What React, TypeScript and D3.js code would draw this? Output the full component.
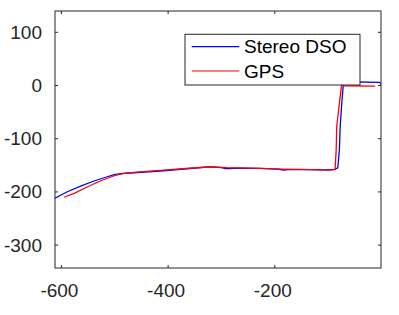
import React from "react";
import * as d3 from "d3";

const dsoX = [-612, -589, -564, -539, -514, -501, -489, -464, -408, -360, -321, -300, -292, -284, -270, -228, -195, -184, -174, -130, -103, -88, -82, -79, -77.5, -74.5, -71.5, -68, -4, 0];
const dsoY = [-212, -199.7, -189, -179.5, -171.5, -167.5, -165.5, -164, -160.2, -156, -153, -154.5, -156.3, -156, -155.3, -155.7, -157, -159, -158, -158.3, -158.7, -157.5, -155, -121, -77, -33, 4, 7, 6, 2];
const gpsX = [-595, -576, -551, -526, -501, -483, -464, -408, -360, -321, -290, -228, -184, -150, -103, -91, -87, -85, -84, -79, -74.5, -71, -12];
const gpsY = [-210, -202.7, -190.3, -179, -169.6, -165, -163.2, -158.9, -155.5, -152.7, -154.5, -155.7, -157, -157.8, -158.9, -158.7, -157, -121, -77, -33, 4.5, -0.5, -1];
const xTicks = [-600, -400, -200];
const yTicks = [-300, -200, -100, 0, 100];
const seriesNames = ["Stereo DSO", "GPS"];
const seriesColors = ["#0000ff", "#ff0000"];

export default function App() {
  const left = 55, right = 381, top = 11, bottom = 268;
  const x = d3.scaleLinear().domain([-612, -1]).range([left, right]);
  const y = d3.scaleLinear().domain([-343, 140]).range([bottom, top]);
  const line = d3.line<[number, number]>().x((d) => x(d[0])).y((d) => y(d[1]));
  const dso = dsoX.map((v, i) => [v, dsoY[i]] as [number, number]);
  const gps = gpsX.map((v, i) => [v, gpsY[i]] as [number, number]);
  const axisColor = "#262626";
  const font = "'Liberation Sans', Arial, sans-serif";
  const tl = 3;
  const fs = 19;
  return (
    <svg width={399} height={315} style={{ position: "absolute", left: 0, top: 0 }} fontFamily={font}>
      <rect x={0} y={0} width={399} height={315} fill="#fff" />
      <defs>
        <clipPath id="plot">
          <rect x={left} y={top} width={right - left} height={bottom - top} />
        </clipPath>
      </defs>
      <g clipPath="url(#plot)" fill="none" strokeWidth={1.3} strokeLinejoin="round">
        <path d={line(dso) || ""} stroke={seriesColors[0]} />
        <path d={line(gps) || ""} stroke={seriesColors[1]} />
      </g>
      <rect x={left} y={top} width={right - left} height={bottom - top} fill="none" stroke={axisColor} strokeWidth={1} />
      {xTicks.map((t) => (
        <g key={"x" + t}>
          <line x1={x(t)} x2={x(t)} y1={bottom} y2={bottom - tl} stroke={axisColor} />
          <line x1={x(t)} x2={x(t)} y1={top} y2={top + tl} stroke={axisColor} />
          <text x={x(t) - 2} y={290} textAnchor="middle" dominantBaseline="central" fontSize={fs} fill={axisColor}>
            {t}
          </text>
        </g>
      ))}
      {yTicks.map((t) => (
        <g key={"y" + t}>
          <line x1={left} x2={left + tl} y1={y(t)} y2={y(t)} stroke={axisColor} />
          <line x1={right} x2={right - tl} y1={y(t)} y2={y(t)} stroke={axisColor} />
          <text x={42} y={y(t)} textAnchor="end" dominantBaseline="central" fontSize={fs} fill={axisColor}>
            {t}
          </text>
        </g>
      ))}
      <rect x={185} y={34.3} width={175} height={50.7} fill="#fff" stroke={axisColor} strokeWidth={1} />
      {seriesNames.map((n, i) => (
        <g key={n}>
          <line x1={191.7} x2={239.3} y1={46.7 + i * 24.3} y2={46.7 + i * 24.3} stroke={seriesColors[i]} strokeWidth={1.2} />
          <text x={244} y={46.7 + i * 24.3} dominantBaseline="central" fontSize={fs} fill="#000">
            {n}
          </text>
        </g>
      ))}
    </svg>
  );
}
